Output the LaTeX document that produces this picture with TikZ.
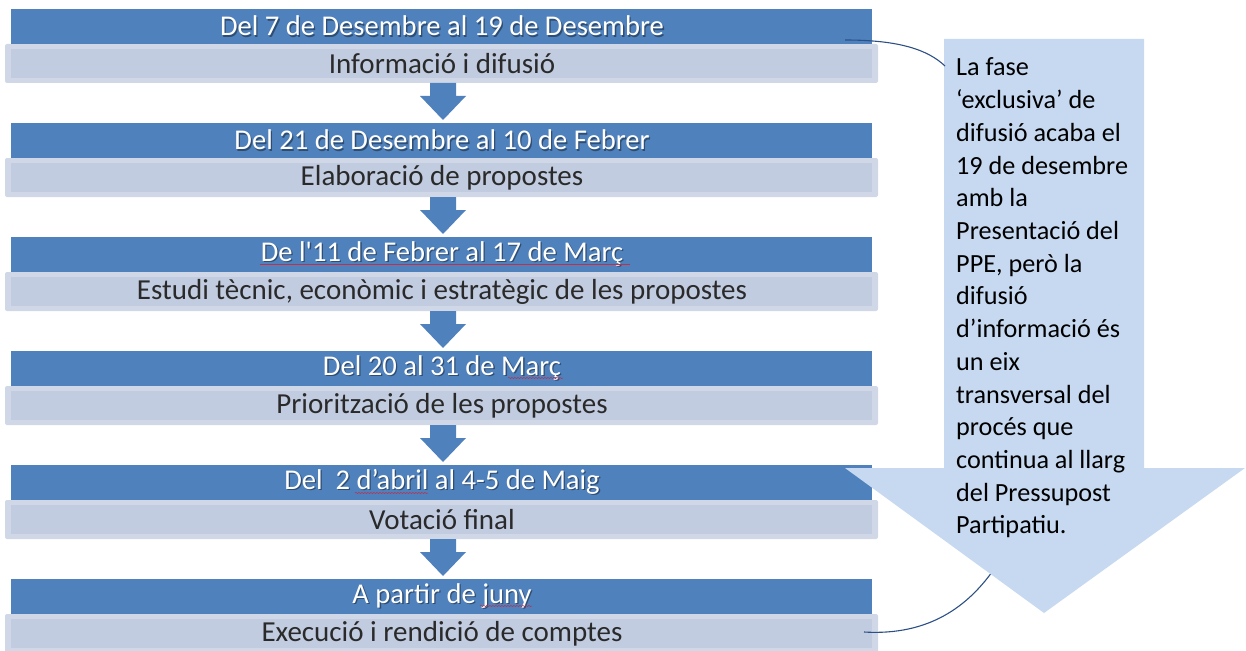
\documentclass[tikz,border=0pt]{standalone}
\usepackage{fontspec}
\setmainfont{Carlito}[Ligatures=TeXOff]
\usetikzlibrary{decorations.pathmorphing}
\definecolor{hblue}{HTML}{4F81BD}
\definecolor{subfill}{HTML}{C1CCE0}
\definecolor{subedge}{HTML}{D0D8E8}
\definecolor{callfill}{HTML}{C6D9F1}
\definecolor{linkblue}{HTML}{2C4F86}
\definecolor{subtext}{HTML}{2A2A2A}
\definecolor{spellred}{HTML}{C0304A}
\tikzset{
  header/.style={fill=hblue,draw=none},
  subouter/.style={fill=subedge,draw=none,rounded corners=2pt},
  subinner/.style={fill=subfill,draw=none},
  htext/.style={text=white,font=\fontsize{28.6}{32}\selectfont,inner sep=0pt},
  hshadow/.style={text=black,opacity=0.4,font=\fontsize{28.6}{32}\selectfont,inner sep=0pt},
  stext/.style={text=subtext,font=\fontsize{29}{32}\selectfont,inner sep=0pt},
  ctext/.style={text=black,font=\fontsize{26.2}{32}\selectfont,inner sep=0pt,anchor=base west},
  flowarrow/.style={fill=hblue,draw=none},
  callout/.style={fill=callfill,draw=none},
  link/.style={draw=linkblue,line width=1.1pt},
  squiggle/.style={draw=spellred,line width=0.5pt,decorate,decoration={snake,amplitude=0.6pt,segment length=3pt}},
  gramline/.style={draw=spellred,line width=0.6pt}
}
\begin{document}
\begin{tikzpicture}[x=1pt,y=-1pt]
\useasboundingbox (0,0) rectangle (1246,650);
\coordinate (c2) at (992,572);
\foreach \i/\head/\sub in {
 0/{Del 7 de Desembre al 19 de Desembre}/{Informació i difusió},
 1/{Del 21 de Desembre al 10 de Febrer}/{Elaboració de propostes},
 2/{De l'11 de Febrer al 17 de Març}/{Estudi tècnic, econòmic i estratègic de les propostes},
 3/{Del 20 al 31 de Març}/{Priorització de les propostes},
 4/{Del \ 2 d’abril al 4-5 de Maig}/{Votació final},
 5/{A partir de juny}/{Execució i rendició de comptes}}{
  \pgfmathsetmacro{\y}{114*\i}
  \fill[subouter] (5,44+\y) rectangle (878,83+\y);
  \fill[subinner] (11,49+\y) rectangle (872,78+\y);
  \fill[header] (11,9+\y) rectangle (872,44+\y);
  \node[hshadow] at (443.3,27.3+\y) {\head};
  \node[htext] (h\i) at (442,26+\y) {\head};
  \node[stext] (s\i) at (442,64+\y) {\sub};
}
% spell-check marks
\draw[gramline] (260,264) -- (630,264);
\draw[squiggle] (508,378) -- (563,378);
\draw[squiggle] (355,493) -- (428,493);
\draw[squiggle] (480,606) -- (532,606);
\foreach \i in {0,...,4}{
  \pgfmathsetmacro{\y}{114*\i}
  \fill[flowarrow] (430,83+\y) -- (456,83+\y) -- (456,96+\y) -- (466,96+\y) -- (443,120+\y) -- (420,96+\y) -- (430,96+\y) -- cycle;
}
\coordinate (c1) at (945,66);
\coordinate (b1) at (845,40);
\coordinate (b2) at (864,632);
\draw[link] (b2) .. controls (930,636) and (968,605) .. (c2);
% callout
\fill[callout] (944,39) -- (1144,39) -- (1144,468) -- (1245,468) -- (1044,613) -- (845,468) -- (944,468) -- cycle;
\draw[link] (b1) .. controls (900,40) and (928,50) .. (c1);
\foreach \k/\t in {0/{La fase},1/{‘exclusiva’ de},2/{difusió acaba el},3/{19 de desembre},
  4/{amb la},5/{Presentació del},6/{PPE, però la},7/{difusió},8/{d’informació és},
  9/{un eix},10/{transversal del},11/{procés que},12/{continua al llarg},
  13/{del Pressupost},14/{Partipatiu.}}{
  \node[ctext] (t\k) at (956,76+32.7*\k) {\t};
}
\end{tikzpicture}
\end{document}
